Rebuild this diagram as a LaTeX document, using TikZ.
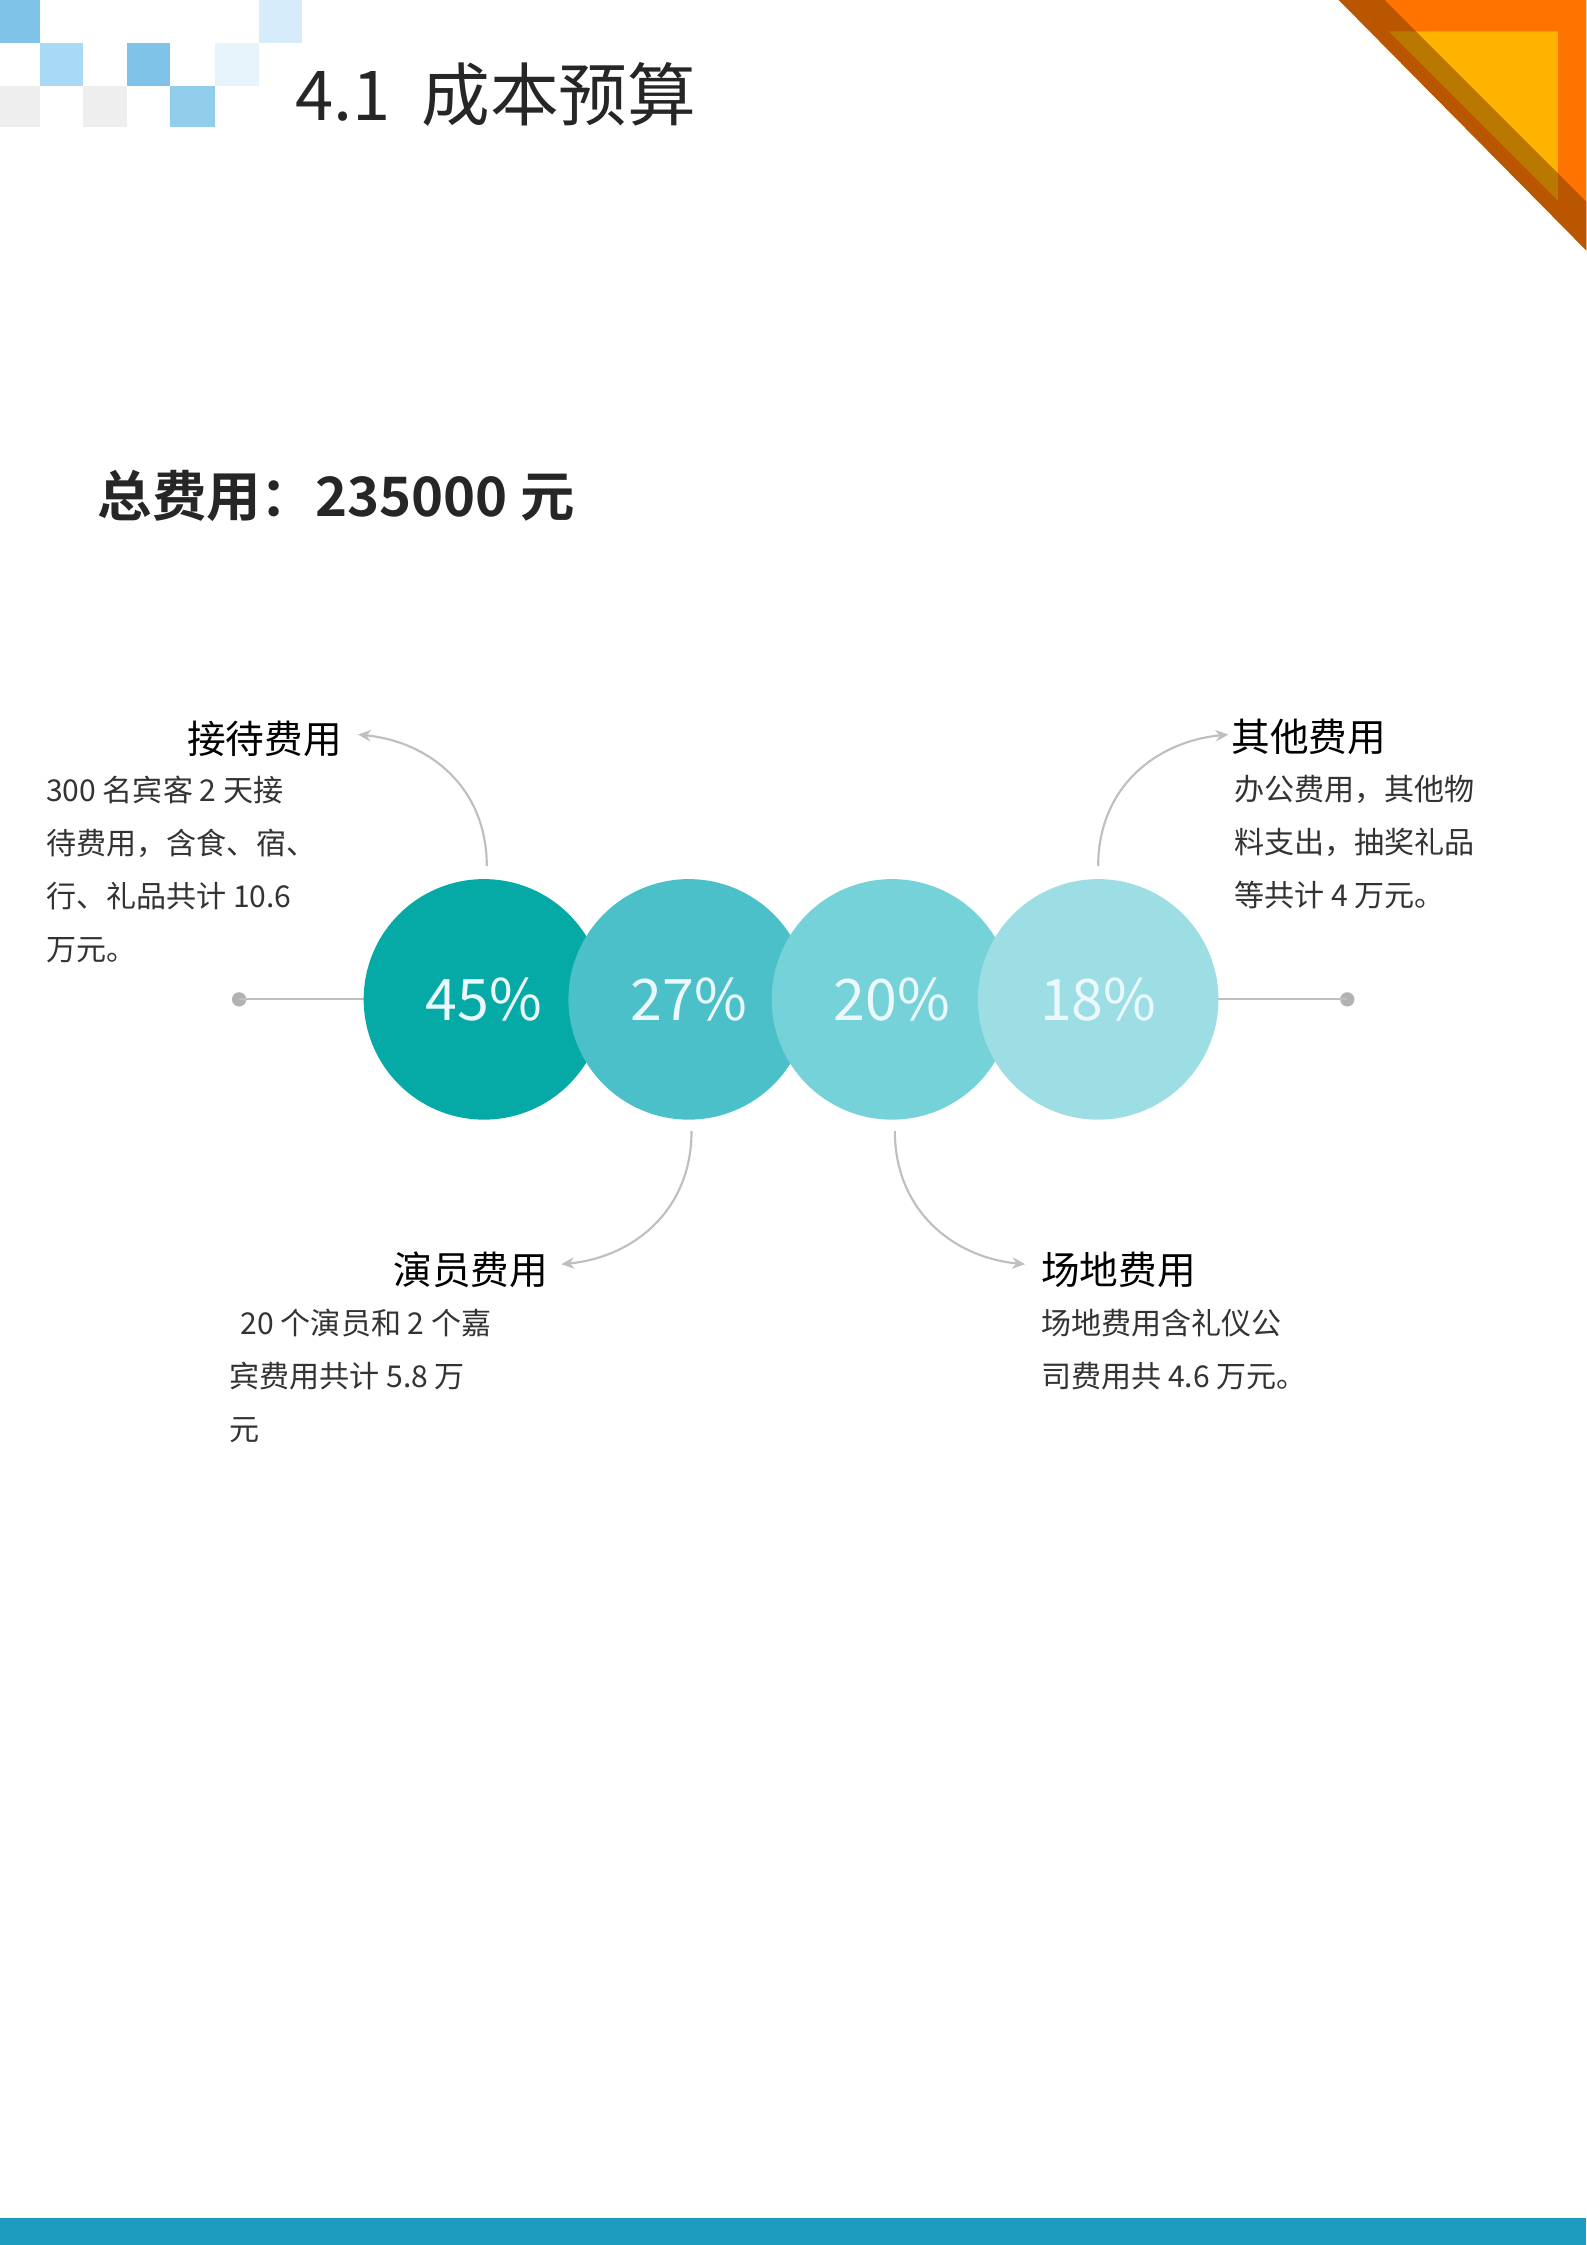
\documentclass[tikz,border=0pt]{standalone}
\usepackage{fontspec}
\setmainfont{Noto Sans CJK SC}
\newfontfamily\cjkb{Noto Sans CJK SC Bold}
\usetikzlibrary{arrows.meta}
\definecolor{cA}{HTML}{05A9A5}
\definecolor{cB}{HTML}{4CC0C9}
\definecolor{cC}{HTML}{76D2D9}
\definecolor{cD}{HTML}{9DDEE4}
\definecolor{sq1}{HTML}{7FC4E8}
\definecolor{sq2}{HTML}{A8DAF5}
\definecolor{sq3}{HTML}{D6ECFA}
\definecolor{sqg}{HTML}{EEEEEE}
\definecolor{bar}{HTML}{1E9CC0}
\definecolor{txt}{HTML}{333333}
\tikzset{
  circ/.style={circle,minimum size=168pt,inner sep=0pt,text=white!92!cyan,font=\fontsize{40}{40}\selectfont},
  head/.style={font=\fontsize{27}{27}\selectfont,text=black,inner sep=0pt},
  body/.style={font=\fontsize{21}{21}\selectfont,text=txt,inner sep=0pt,anchor=base west},
  conn/.style={draw=black!25,line width=1.5pt,-{Stealth[length=9pt,width=8pt]}},
  gline/.style={draw=black!25,line width=1.5pt}
}
\begin{document}
\begin{tikzpicture}[x=1pt,y=-1pt]
\useasboundingbox (0,0) rectangle (1108,1568);
% squares
\fill[sq1] (0,0) rectangle (28,30);
\fill[sq3] (181,0) rectangle (211,30);
\fill[sq2] (28,30) rectangle (58,60);
\fill[sq1] (89,30) rectangle (119,60);
\fill[sq3!60] (150,30) rectangle (181,60);
\fill[sqg] (0,60) rectangle (28,89);
\fill[sqg] (58,60) rectangle (89,89);
\fill[sq1!85] (119,60) rectangle (150,89);
\node[anchor=base west,inner sep=0pt,font=\fontsize{48}{48}\selectfont,text=black!85] (title) at (206,84) {4.1\ \ 成本预算};
% corner
\fill[orange!90!red] (935,0) -- (1108,0) -- (1108,175) -- cycle;
\fill[orange!60!yellow] (970,22) -- (1088,22) -- (1088,140) -- cycle;
\fill[black!60!orange,opacity=0.45] (935,0) -- (967,0) -- (1108,141) -- (1108,175) -- cycle;
% total
\node[anchor=base west,inner sep=0pt,font=\cjkb\fontsize{38}{38}\selectfont,text=black!85] (total) at (68,361) {总费用：235000 元};
% lines
\coordinate (ld) at (167,698);
\coordinate (rd) at (941,698);
\fill[black!30] (ld) circle (5pt) (rd) circle (5pt);
\draw[gline] (ld) -- (256,698);
\draw[gline] (848,698) -- (rd);
% circles
\node[circ,fill=cA] (c1) at (338,698) {45\%};
\node[circ,fill=cB] (c2) at (481,698) {27\%};
\node[circ,fill=cC] (c3) at (623,698) {20\%};
\node[circ,fill=cD] (c4) at (767,698) {18\%};
% arrows
\coordinate (a1s) at (340,605); \coordinate (a1e) at (250,513);
\draw[conn] (a1s) .. controls (340,550) and (300,518) .. (a1e);
\coordinate (a2s) at (767,605); \coordinate (a2e) at (858,513);
\draw[conn] (a2s) .. controls (767,550) and (807,518) .. (a2e);
\coordinate (a3s) at (483,790); \coordinate (a3e) at (392,883);
\draw[conn] (a3s) .. controls (483,845) and (443,878) .. (a3e);
\coordinate (a4s) at (625,790); \coordinate (a4e) at (716,883);
\draw[conn] (a4s) .. controls (625,845) and (665,878) .. (a4e);
% texts
\node[head,anchor=base east] (h1) at (239,526) {接待费用};
\node[body] (b1a) at (32,560) {300 名宾客 2 天接};
\node[body] (b1b) at (32,597) {待费用，含食、宿、};
\node[body] (b1c) at (32,634) {行、礼品共计 10.6};
\node[body] (b1d) at (32,671) {万元。};
\node[head,anchor=base west] (h2) at (860,525) {其他费用};
\node[body] (b2a) at (862,559) {办公费用，其他物};
\node[body] (b2b) at (862,596) {料支出，抽奖礼品};
\node[body] (b2c) at (862,633) {等共计 4 万元。};
\node[head,anchor=base east] (h3) at (383,897) {演员费用};
\node[body] (b3a) at (168,932) {20 个演员和 2 个嘉};
\node[body] (b3b) at (160,969) {宾费用共计 5.8 万};
\node[body] (b3c) at (160,1006) {元};
\node[head,anchor=base west] (h4) at (727,897) {场地费用};
\node[body] (b4a) at (727,932) {场地费用含礼仪公};
\node[body] (b4b) at (727,969) {司费用共 4.6 万元。};
% bottom bar
\fill[bar] (0,1549) rectangle (1108,1568);
\end{tikzpicture}
\end{document}
